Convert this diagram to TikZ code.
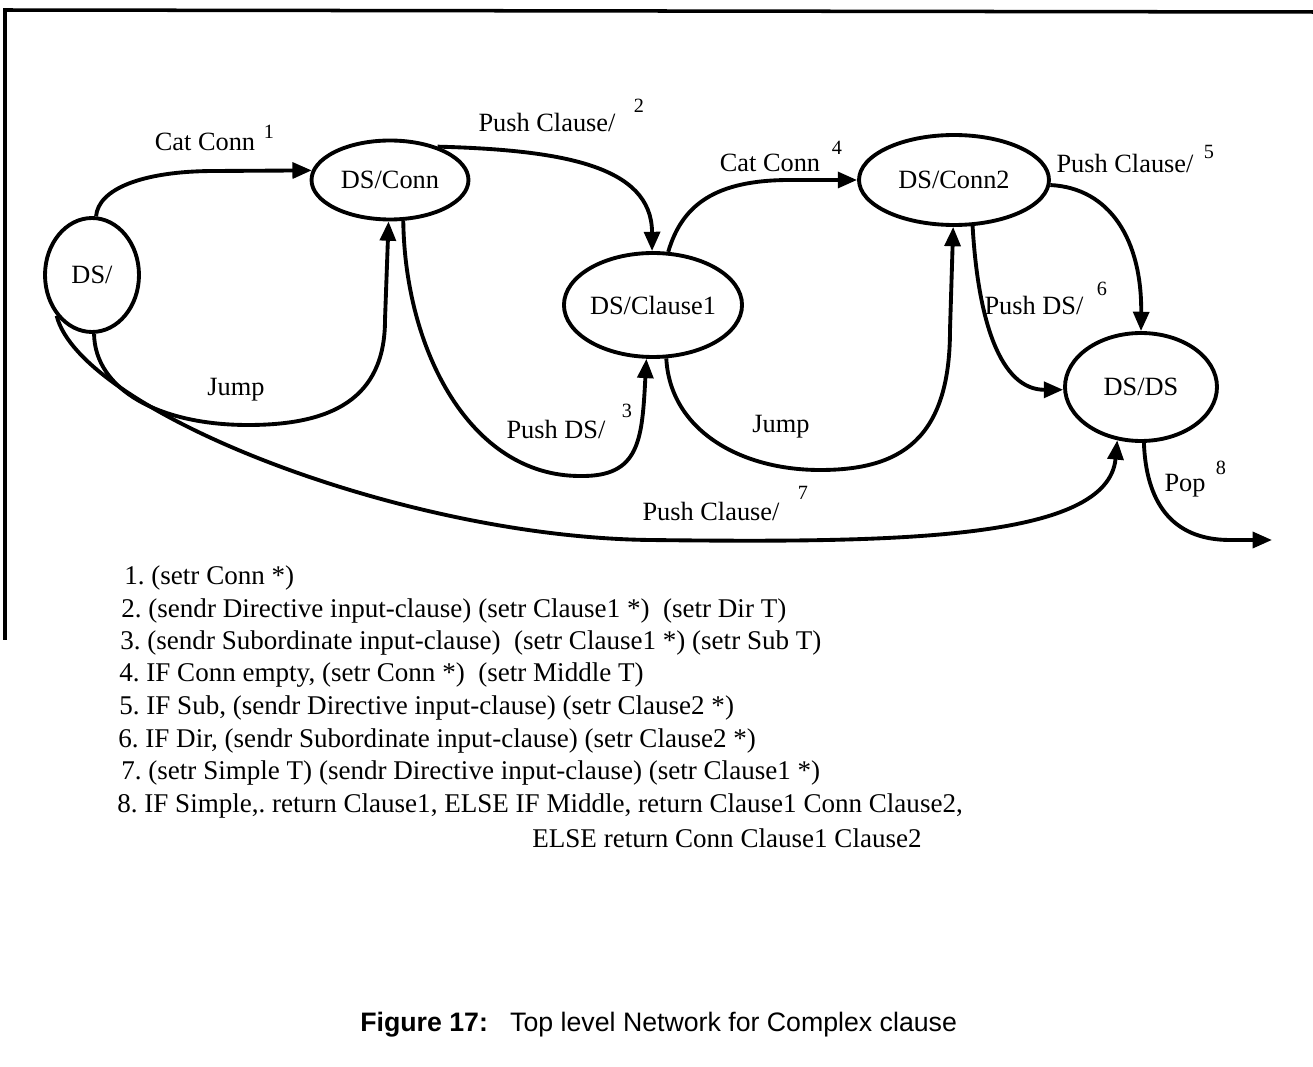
\documentclass[tikz,border=0pt]{standalone}
\usepackage{fontspec}
\setmainfont{Liberation Serif}
\newfontfamily\capfont{Liberation Sans}
\usetikzlibrary{shapes.geometric,arrows.meta}
\frenchspacing

\begin{document}
\begin{tikzpicture}[x=0.02cm,y=-0.02cm,
  state/.style={draw,ellipse,line width=2.2pt,inner sep=0pt,font=\fontsize{15}{18}\selectfont},
  arc/.style={line width=2.2pt,-{Triangle[length=11pt,width=9pt]}},
  lab/.style={font=\fontsize{15}{18}\selectfont,inner sep=0pt},
  num/.style={font=\fontsize{11.5}{14}\selectfont,inner sep=0pt},
  item/.style={anchor=west,font=\fontsize{15.4}{18}\selectfont,inner sep=0pt}]

\useasboundingbox (0,0) rectangle (1313,1067);
% frame
\draw[line width=2pt] (5,640) -- (5,10) -- (1313,12);

% states
\node[state,minimum width=1.88cm,minimum height=2.28cm] (ds)    at (92,275)  {DS/};
\node[state,minimum width=3.14cm,minimum height=1.58cm] (conn)  at (390,180) {DS/Conn};
\node[state,minimum width=3.52cm,minimum height=2.08cm] (cl1)   at (653,305) {DS/Clause1};
\node[state,minimum width=3.80cm,minimum height=1.80cm] (conn2) at (954,180) {DS/Conn2};
\node[state,minimum width=3.04cm,minimum height=2.16cm] (dsds)  at (1141,387) {DS/DS};
\coordinate (popend) at (1272,540);

% arcs
\draw[arc] (ds.86) .. controls (98,190) and (140,171) .. (215,171) -- (conn.173);
\draw[arc] (conn.35) .. controls (560,150) and (652,165) .. (cl1.91);
\draw[arc] (conn.-72) .. controls (405,350) and (470,476) .. (580,476)
           .. controls (640,477) and (642,440) .. (cl1.-97);
\draw[arc] (ds.-88) .. controls (95,390) and (160,425) .. (248,425)
           .. controls (330,425) and (385,400) .. (385,320) -- (conn.-92);
\draw[arc] (ds.-131) .. controls (80,410) and (400,537) .. (650,540)
           .. controls (900,543) and (1108,540) .. (dsds.-114);
\draw[arc] (cl1.74) .. controls (682,205) and (715,180) .. (790,180) -- (conn2.180);
\draw[arc] (cl1.-76) .. controls (670,430) and (740,470) .. (820,470)
           .. controls (900,470) and (950,440) .. (950,330) -- (conn2.-91);
\draw[arc] (conn2.-68) .. controls (978,320) and (1000,390) .. (dsds.182);
\draw[arc] (conn2.-3) .. controls (1110,188) and (1142,240) .. (dsds.90);
\draw[arc] (dsds.-87) .. controls (1146,500) and (1170,540) .. (1230,540) -- (popend);

% arc labels
\node[lab] (t1) at (205,142) {Cat Conn};     \node[num] (s1) at (269,132) {1};
\node[lab] (t2) at (547,122) {Push Clause/}; \node[num] (s2) at (639,106) {2};
\node[lab] (tj1) at (236,390) {Jump};
\node[lab] (t3) at (556,429) {Push DS/};     \node[num] (s3) at (627,411) {3};
\node[lab] (t4) at (770,163) {Cat Conn};     \node[num] (s4) at (837,148) {4};
\node[lab] (t5) at (1125,163) {Push Clause/};\node[num] (s5) at (1209,152) {5};
\node[lab] (t6) at (1034,305) {Push DS/};    \node[num] (s6) at (1102,289) {6};
\node[lab] (tj2) at (781,427) {Jump};
\node[lab] (t7) at (711,511) {Push Clause/}; \node[num] (s7) at (803,493) {7};
\node[lab] (t8) at (1185,486) {Pop};         \node[num] (s8) at (1221,468) {8};

% register actions
\node[item] (a1) at (124,578)   {1. (setr Conn *)};
\node[item] (a2) at (121,610.5) {2. (sendr Directive input-clause) (setr Clause1 *)\ \ (setr Dir T)};
\node[item] (a3) at (120,643)   {3. (sendr Subordinate input-clause)\ \ (setr Clause1 *) (setr Sub T)};
\node[item] (a4) at (119,675.5) {4. IF Conn empty, (setr Conn *)\ \ (setr Middle T)};
\node[item] (a5) at (119,708)   {5. IF Sub, (sendr Directive input-clause) (setr Clause2 *)};
\node[item] (a6) at (118,740.5) {6. IF Dir, (sendr Subordinate input-clause) (setr Clause2 *)};
\node[item] (a7) at (121,773)   {7. (setr Simple T) (sendr Directive input-clause) (setr Clause1 *)};
\node[item] (a8) at (117,805.5) {8. IF Simple,. return Clause1, ELSE IF Middle, return Clause1 Conn Clause2,};
\node[item] (a9) at (532,838)   {ELSE return Conn Clause1 Clause2};

% caption
\node[anchor=west,inner sep=0pt,font=\capfont\fontsize{15.2}{18}\selectfont] (cap) at (360,1025)
  {\textbf{Figure 17:}\ \ \ Top level Network for Complex clause};
\end{tikzpicture}
\end{document}
